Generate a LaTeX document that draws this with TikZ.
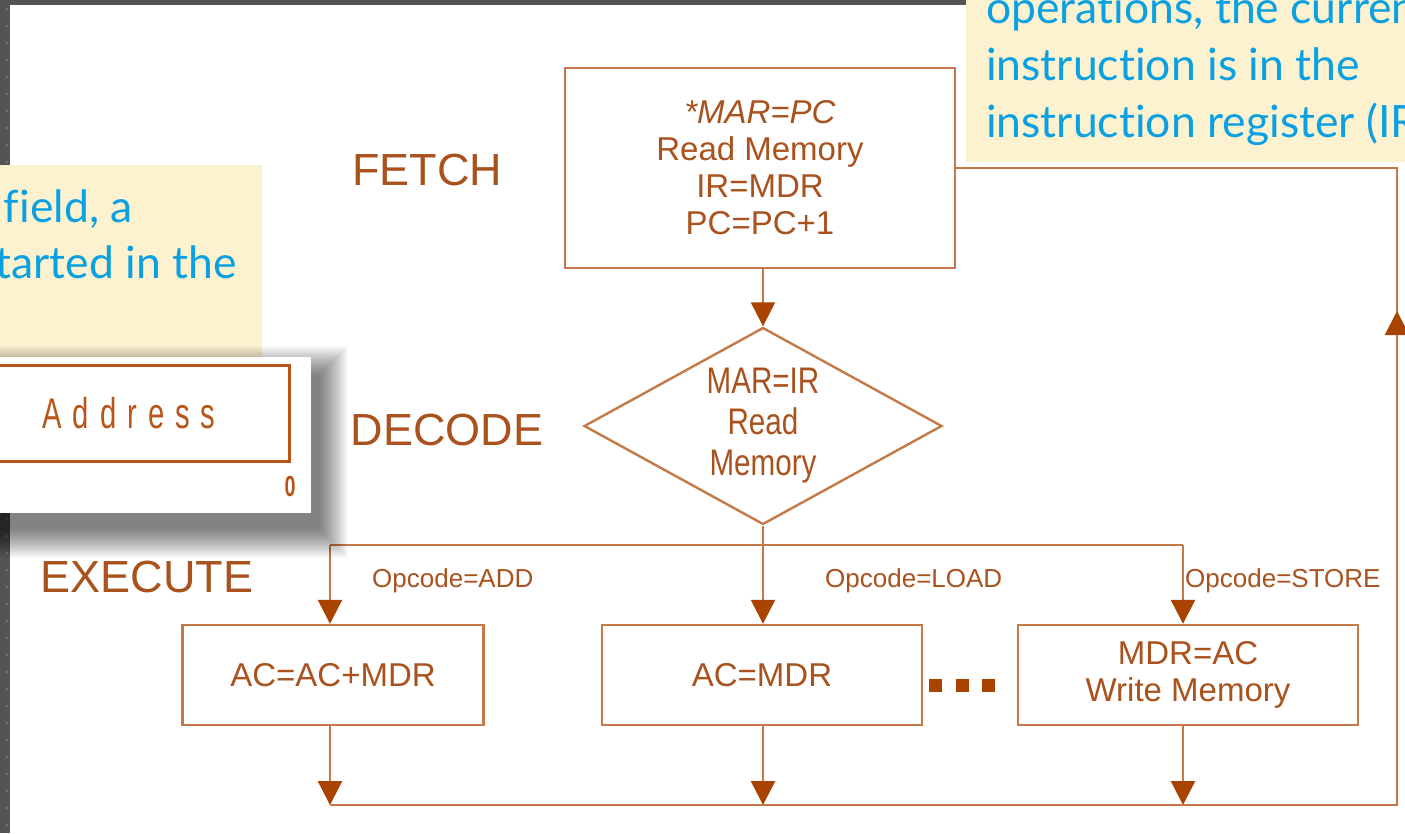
\documentclass[tikz,border=0pt]{standalone}
\usepackage{fontspec}
\setmainfont{Liberation Sans}
\newfontfamily\callfont[Ligatures={NoCommon,NoRare}]{Lato}
\newfontfamily\narrowfont[FakeStretch=0.8]{Liberation Sans}
\newfontfamily\fieldfont[FakeStretch=0.68]{Liberation Sans}
\usetikzlibrary{arrows.meta,shapes.geometric}

\definecolor{framegray}{HTML}{545454}
\definecolor{dotgray}{HTML}{767676}
\definecolor{flowline}{HTML}{C47A48}
\definecolor{flowtip}{HTML}{A94400}
\definecolor{flowtext}{HTML}{A9521E}
\definecolor{notefill}{HTML}{FDF2D0}
\definecolor{notetext}{HTML}{0AA0E2}
\definecolor{fieldline}{HTML}{B8561A}

\tikzset{
  flow/.style={draw=flowline, line width=2.4pt},
  flowarrow/.style={draw=flowline, line width=2.4pt,
    -{Triangle[length=24pt,width=24pt,color=flowtip]}},
  stepbox/.style={draw=flowline, line width=2.4pt, fill=white, inner sep=0pt,
    align=center, text=flowtext, font=\fontsize{33}{37}\selectfont},
  phase/.style={text=flowtext, font=\fontsize{45}{50}\selectfont, inner sep=0pt},
  cond/.style={text=flowtext, font=\fontsize{26}{30}\selectfont, inner sep=0pt,
    anchor=base west},
  notetxt/.style={text=notetext, font=\callfont\fontsize{44.5}{57}\selectfont,
    inner sep=0pt},
}

\begin{document}
\begin{tikzpicture}[x=1pt, y=-1pt]
\useasboundingbox (0,0) rectangle (1405,833);
\begin{scope}
\clip (0,0) rectangle (1405,833);

% slide frame and page
\fill[framegray] (0,0) rectangle (1405,833);
\foreach \yy in {9,26,...,833} \fill[dotgray] (7,\yy) circle (1.4);
\fill[white] (10,5) rectangle (1405,833);

% phase labels
\node[phase] (lfetch) at (427,170) {FETCH};
\node[phase] (ldecode) at (447,430) {DECODE};
\node[phase] (lexec) at (147,577) {EXECUTE};

% fetch step
\node[stepbox, minimum width=390pt, minimum height=200pt] (fetch) at (760,168)
  {\textit{*MAR=PC}\\Read Memory\\IR=MDR\\PC=PC+1};

% decode step
\node[diamond, aspect=2, draw=flowline, line width=2.4pt, fill=white, inner sep=0pt,
  minimum width=358pt, minimum height=197pt, align=center, text=flowtext,
  font=\narrowfont\fontsize{37}{41}\selectfont] (decode) at (763,426)
  {MAR=IR\\Read\\Memory};

% execute steps
\node[stepbox, minimum width=301pt, minimum height=100pt] (add) at (333,675) {AC=AC+MDR};
\node[stepbox, minimum width=320pt, minimum height=100pt] (load) at (762,675) {AC=MDR};
\node[stepbox, minimum width=340pt, minimum height=100pt] (store) at (1188,675)
  {MDR=AC\\Write Memory};

% branch and merge points
\coordinate (jA) at (330,545);
\coordinate (jL) at (763,545);
\coordinate (jS) at (1183,545);
\coordinate (mA) at (330,805);
\coordinate (mL) at (763,805);
\coordinate (mS) at (1183,805);
\coordinate (br) at (1397,805);
\coordinate (tr) at (1397,168);
\coordinate (up) at (1397,311);

% connectors
\draw[flowarrow] (fetch.south -| decode.north) -- (decode.north);
\draw[flow] (decode.south) -- (jL);
\draw[flow] (jA) -- (jS);
\draw[flowarrow] (jA) -- (jA |- add.north);
\draw[flowarrow] (jL) -- (jL |- load.north);
\draw[flowarrow] (jS) -- (jS |- store.north);
\draw[flowarrow] (jA |- add.south) -- (mA);
\draw[flowarrow] (jL |- load.south) -- (mL);
\draw[flowarrow] (jS |- store.south) -- (mS);
\draw[flow] (mA) -- (br) -- (tr) -- (tr -| fetch.east);
\draw[flowarrow] (br) -- (up);

% branch conditions
\node[cond] (cadd) at (372,587) {Opcode=ADD};
\node[cond] (cload) at (825,587) {Opcode=LOAD};
\node[cond] (cstore) at (1185,587) {Opcode=STORE};

% ellipsis between the execute steps
\foreach \xx in {935,962,988}
  \fill[flowtip] (\xx-6.5,678.5) rectangle (\xx+6.5,691.5);

% call-out notes
\fill[notefill] (966,-5) rectangle (1410,162);
\node[notetxt, anchor=base west] (n1) at (986,23) {operations, the current};
\node[notetxt, anchor=base west] (n2) at (986,80) {instruction is in the};
\node[notetxt, anchor=base west] (n3) at (986,137) {instruction register (IR)};

\fill[notefill] (-5,165) rectangle (262,357);
\node[notetxt, anchor=base east] (n4) at (133,222) {field, a};
\node[notetxt, anchor=base east] (n5) at (237,278) {started in the};

% instruction-format panel with a soft drop shadow
\foreach \k in {1,...,30}
  \fill[black, opacity=0.018]
    (-30-28+\k, 373-28+\k) rectangle (321+28-\k, 531+28-\k);
\fill[white] (-30,357) rectangle (311,513);
\draw[fieldline, line width=3pt] (-30,365) rectangle (289,461);
\node[text=fieldline, inner sep=0pt,
  font=\fieldfont\fontsize{43}{45}\selectfont] (addr) at (129,413)
  {A\kern11pt d\kern11pt d\kern11pt r\kern11pt e\kern11pt s\kern11pt s};
\node[text=fieldline, inner sep=0pt,
  font=\fieldfont\bfseries\fontsize{29}{31}\selectfont] (bit0) at (290,487) {0};
\end{scope}
\end{tikzpicture}
\end{document}
